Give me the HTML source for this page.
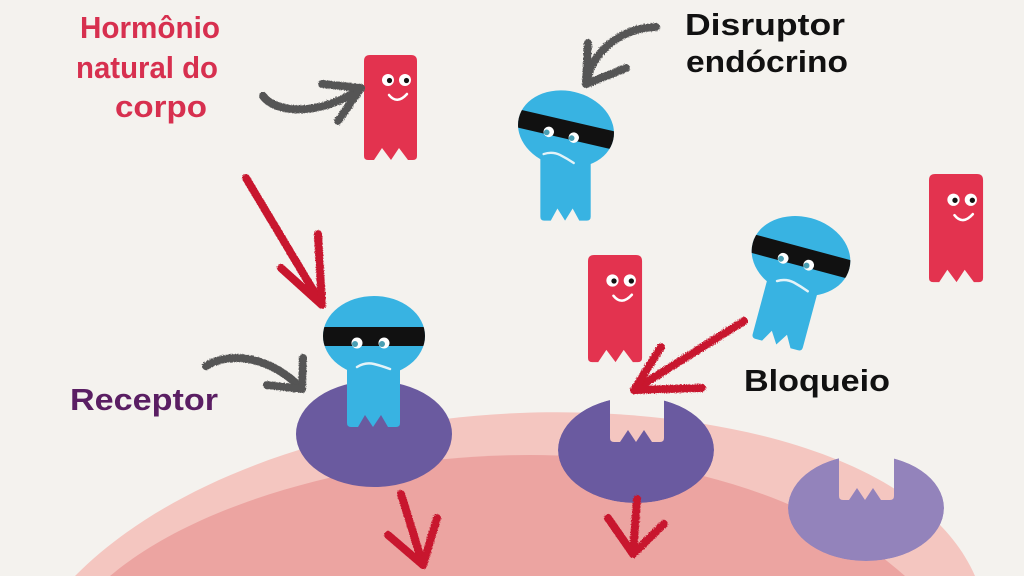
<!DOCTYPE html>
<html><head><meta charset="utf-8"><style>
html,body{margin:0;padding:0;background:#f4f2ee;}
svg{display:block;}
text{font-family:"Liberation Sans",sans-serif;font-weight:bold;}
</style></head><body>
<svg width="1024" height="576" viewBox="0 0 1024 576" xmlns="http://www.w3.org/2000/svg">
<defs>
  <filter id="rough" x="-20%" y="-20%" width="140%" height="140%">
    <feTurbulence type="fractalNoise" baseFrequency="0.9" numOctaves="2" result="n"/>
    <feDisplacementMap in="SourceGraphic" in2="n" scale="3"/>
  </filter>
  <clipPath id="hc"><ellipse cx="0" cy="0" rx="51" ry="40"/></clipPath>
  <g id="head">
    <ellipse cx="0" cy="0" rx="51" ry="40" fill="#38b3e2"/>
    <rect x="-60" y="-9" width="120" height="19" fill="#111" clip-path="url(#hc)"/>
    <circle cx="-17" cy="7" r="5.5" fill="#fff"/>
    <circle cx="-19" cy="8" r="3" fill="#4a9fb3"/>
    <circle cx="10" cy="7" r="5.5" fill="#fff"/>
    <circle cx="8" cy="8" r="3" fill="#4a9fb3"/>
    <path d="M -17 31 Q -9 26 0 28 Q 8 30 16 33" stroke="#e4f3f8" stroke-width="2.5" fill="none" stroke-linecap="round"/>
  </g>
  <path id="body" d="M -27 20 L -27 87 Q -27 91 -23 91 L -16 91 L -9 79 L -1 91 L 7 79 L 14 91 L 22 91 Q 26 91 26 87 L 26 20 Z" fill="#38b3e2"/>
  <g id="hor">
    <path d="M0 6 Q0 0 6 0 L47 0 Q53 0 53 6 L53 101 Q53 105 49 105 L44 105 L35 93 L27 105 L18 93 L10 105 L4 105 Q0 105 0 101 Z" fill="#e3334f"/>
    <circle cx="24" cy="25" r="6" fill="#fff"/>
    <circle cx="25.5" cy="25.5" r="2.6" fill="#111"/>
    <circle cx="41" cy="25" r="6" fill="#fff"/>
    <circle cx="42.5" cy="25.5" r="2.6" fill="#111"/>
    <path d="M25 40 Q33 50 43 39" stroke="#fff" stroke-width="2.5" fill="none" stroke-linecap="round"/>
  </g>
  <mask id="m2">
    <ellipse cx="636" cy="450" rx="78" ry="53" fill="#fff"/>
    <path d="M610 380 L610 438 Q610 442 614 442 L620 442 L628 430 L636 442 L644 430 L652 442 L660 442 Q664 442 664 438 L664 380 Z" fill="#000"/>
  </mask>
  <mask id="m3">
    <ellipse cx="866" cy="508" rx="78" ry="53" fill="#fff"/>
    <path d="M839 440 L839 496 Q839 500 843 500 L849 500 L857 488 L865 500 L873 488 L881 500 L890 500 Q894 500 894 496 L894 440 Z" fill="#000"/>
  </mask>
</defs>

<rect width="1024" height="576" fill="#f4f2ee"/>

<!-- cell -->
<path d="M 75 576 C 170 480, 340 420, 520 413 C 700 406, 920 450, 975 576 Z" fill="#f4c6c0"/>
<path d="M 110 576 C 200 500, 370 455, 530 455 C 680 455, 820 500, 905 576 Z" fill="#eca4a1"/>

<!-- receptors -->
<ellipse cx="374" cy="434" rx="78" ry="53" fill="#6a5a9f"/>
<ellipse cx="636" cy="450" rx="78" ry="53" fill="#6a5aa0" mask="url(#m2)"/>
<ellipse cx="866" cy="508" rx="78" ry="53" fill="#9383bb" mask="url(#m3)"/>

<!-- hormones -->
<use href="#hor" transform="translate(364,55)"/>
<use href="#hor" transform="translate(588,255) scale(1.02,1.02)"/>
<use href="#hor" transform="translate(929,174) scale(1.02,1.03)"/>

<!-- disruptor figures -->
<g transform="translate(374,336)">
  <use href="#body"/>
  <use href="#head"/>
</g>
<g transform="translate(566,129) scale(0.95)">
  <use href="#body" transform="scale(1,1.06)"/>
  <use href="#head" transform="rotate(13)"/>
</g>
<g transform="translate(801,256) rotate(15) scale(0.98)">
  <use href="#body" transform="scale(1,1.03)"/>
  <use href="#head"/>
</g>

<!-- grey arrows -->
<g stroke="#545454" stroke-width="8" fill="none" stroke-linecap="round" stroke-linejoin="round" filter="url(#rough)">
  <path d="M 263 96 C 276 114, 322 116, 361 88"/>
  <path d="M 322 84 L 361 88 L 338 121"/>
  <path d="M 656 27 C 622 28, 592 50, 586 84"/>
  <path d="M 588 43 L 586 84 L 626 68"/>
  <path d="M 206 366 C 232 350, 272 358, 302 389"/>
  <path d="M 303 358 L 302 389 L 267 385"/>
</g>

<!-- red arrows -->
<g stroke="#c8132d" stroke-width="8" fill="none" stroke-linecap="round" stroke-linejoin="round" filter="url(#rough)">
  <path d="M 246 178 L 322 305"/>
  <path d="M 281 268 L 322 305 L 318 234"/>
  <path d="M 744 321 L 634 390"/>
  <path d="M 661 347 L 634 390 L 702 388"/>
  <path d="M 401 494 L 423 565"/>
  <path d="M 388 535 L 423 565 L 437 518"/>
  <path d="M 637 499 L 633 554"/>
  <path d="M 608 518 L 633 554 L 664 524"/>
</g>

<!-- labels -->
<g fill="#d7304f" font-size="31">
  <text x="80" y="38" textLength="140" lengthAdjust="spacingAndGlyphs">Hormônio</text>
  <text x="76" y="78" textLength="142" lengthAdjust="spacingAndGlyphs">natural do</text>
  <text x="115" y="117" textLength="92" lengthAdjust="spacingAndGlyphs">corpo</text>
</g>
<g fill="#111" font-size="31">
  <text x="685" y="35" textLength="160" lengthAdjust="spacingAndGlyphs">Disruptor</text>
  <text x="686" y="72" textLength="162" lengthAdjust="spacingAndGlyphs">endócrino</text>
  <text x="744" y="391" textLength="146" lengthAdjust="spacingAndGlyphs">Bloqueio</text>
</g>
<text x="70" y="410" font-size="31" fill="#5a1e63" textLength="148" lengthAdjust="spacingAndGlyphs">Receptor</text>
</svg>
</body></html>
